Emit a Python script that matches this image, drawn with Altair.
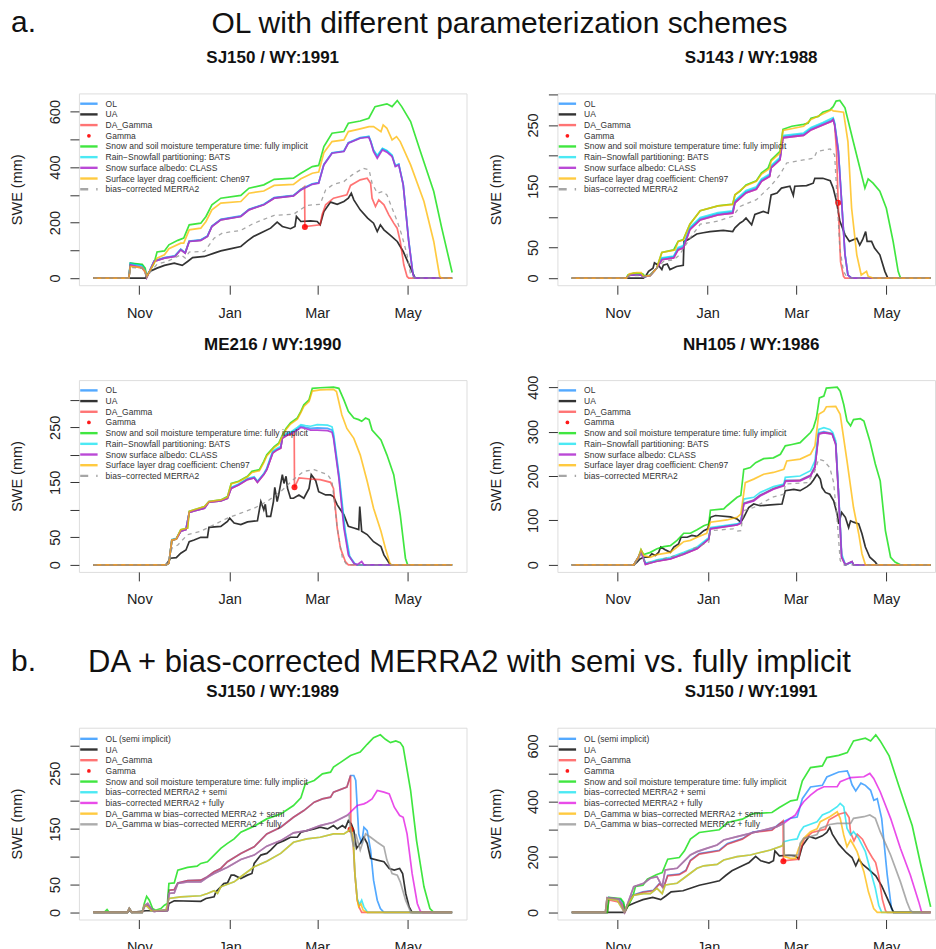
import altair as alt
import pandas as pd

FONT = "Liberation Sans"

# ---------------- data: (day since Oct 1, SWE mm) ----------------
# Panel 1: SJ150 / WY:1991
P1_OL = [(0,0),(24,0),(25,54),(33,46),(35,28),(36,3),(38,26),(41,62),(48,74),(55,80),(59,104),(62,92),(64.7,134),(72.5,138),(77,152),(80,188),(86,212),(99.5,224),(105,248),(115,266),(122,290),(135,298),(140,320),(147.7,340),(152,344),(155.5,410),(161,452),(169,458),(172,488),(180,506),(185.8,510),(187,494),(189,460),(191.5,438),(195,466),(198,458),(201.5,440),(203.7,404),(206,410),(209,338),(212.7,136),(215.6,14),(217,0),(242,0)]
P1_UA = [(0,0),(35,0),(36.5,12),(38,24),(43,36),(48,46),(54.6,54),(60,46),(63.6,60),(67,74),(75,78),(81.5,90),(86,98),(93,106),(99.5,114),(104,134),(108,150),(115,168),(119.6,180),(124,202),(127.5,186),(133,178),(136,186),(137,222),(140,204),(146.5,206),(151,204),(153,192),(155.5,240),(160,274),(164.5,266),(169,276),(172,288),(174,306),(175.7,282),(180,246),(185,216),(189,198),(191.5,168),(193.6,192),(196,174),(200,156),(205,132),(209,96),(214,36),(217,0),(242,0)]
P1_DA = [(0,0),(24,0),(25,45),(33,36),(35,22),(36,2),(38,24),(41,60),(48,72),(55,78),(59,102),(62,90),(64.7,132),(72.5,136),(77,150),(80,186),(86,210),(99.5,222),(105,246),(115,264),(122,288),(135,296),(140,318),(142.5,330),(142.7,186),(153,192),(154.3,228),(156.7,264),(162,288),(171,300),(173.5,334),(180,354),(184.7,360),(187,342),(188,288),(190.3,258),(192.5,282),(196,264),(199.3,228),(202.6,198),(204.9,180),(207,132),(209.4,48),(211.6,6),(212.7,0),(242,0)]
P1_GAMMA = [(142.7,184)]
P1_FULLY = [(0,0),(24,0),(25,54),(33,50),(35,36),(36,6),(38,24),(41,54),(43,94),(48,98),(51,120),(57,136),(61,144),(64.7,192),(72.5,198),(76,222),(80,264),(86,288),(99.5,298),(105,324),(115,336),(122,356),(135,360),(140,378),(147.7,402),(152,406),(155.5,474),(161,522),(169,528),(172,558),(180,566),(185.8,576),(190,618),(198,628),(201.5,618),(205,640),(208,618),(214,564),(220.6,456),(229.6,312),(235,180),(242,20)]
P1_BATS = [(0,0),(24,0),(25,52),(33,44),(35,27),(36,3),(38,25),(41,61),(48,73),(55,79),(59,103),(62,91),(64.7,133),(72.5,137),(77,151),(80,187),(86,211),(99.5,223),(105,247),(115,265),(122,289),(135,297),(140,319),(147.7,339),(152,343),(155.5,409),(161,451),(169,457),(172,487),(180,505),(185.8,511),(187,496),(189,462),(191.5,442),(195,468),(198,460),(201.5,444),(203.7,406),(206,411),(209,338),(212.7,134),(215.6,13),(217,0),(242,0)]
P1_CLASS = [(0,0),(24,0),(25,48),(33,38),(35,24),(36,2),(38,24),(41,60),(48,72),(55,78),(59,102),(62,90),(64.7,132),(72.5,136),(77,150),(80,186),(86,210),(99.5,222),(105,246),(115,264),(122,288),(135,296),(140,318),(147.7,338),(152,342),(155.5,408),(161,450),(169,456),(172,486),(180,504),(185.8,508),(187,492),(189,456),(191.5,432),(195,462),(198,454),(201.5,438),(203.7,402),(206,408),(209,336),(212.7,132),(215.6,12),(217,0),(242,0)]
P1_CHEN97 = [(0,0),(24,0),(25,42),(33,38),(35,24),(36,5),(38,24),(43,72),(48,84),(51,106),(59,126),(61,126),(64.7,174),(72.5,180),(76,204),(80,246),(86,270),(99.5,276),(105,306),(115,314),(122,334),(135,338),(140,358),(147.7,378),(152,382),(155.5,452),(161,492),(169,498),(172,528),(180,538),(186,546),(189,546),(194,528),(195.5,552),(198,540),(201.5,498),(204.5,510),(207,492),(214,408),(223,276),(229.6,132),(233.6,6),(235,0),(242,0)]
P1_MERRA2 = [(0,0),(24,0),(25,38),(33,36),(36,5),(38,18),(43,50),(50,60),(59,84),(62,72),(64.7,94),(75,96),(81.5,144),(87,162),(99.5,172),(107,194),(115,212),(122,226),(135,230),(144,262),(153,266),(156.7,318),(162,338),(169,348),(174.6,372),(182,396),(186,390),(188,342),(191.5,306),(195,312),(198,300),(201.5,252),(205,204),(208,156),(211.6,84),(214,12),(216,0),(242,0)]

# Panel 2: SJ143 / WY:1988 (leap year)
P2_OL = [(0,0),(37,0),(39,5),(47,5),(48.5,2),(53,4),(57.5,16),(61,32),(69,35),(72,48),(75.5,51),(80,81),(87,97),(99,105),(109,108),(110.5,125),(118,141),(125,147),(128.5,160),(134,168),(135,182),(141,195),(143,231),(157,235),(162,244),(170,252),(176,258),(177,260),(178,252),(180.5,208),(183,115),(185,39),(187,5),(189.5,0),(243,0)]
P2_UA = [(0,0),(48.5,0),(50,3),(52,11),(55,16),(56,25),(58.6,21),(61,14),(62,21),(64.7,23),(66.5,14),(71,19),(75.5,21),(76,60),(79,63),(84.6,72),(89,74),(93.6,76),(102.6,78),(109,76),(110.5,82),(114,90),(116,93),(118,98),(121.8,87),(124,104),(129.7,109),(133,106),(135,136),(139,139),(142,147),(147.7,150),(150,135),(151,150),(159,151),(163.5,155),(164.6,163),(170,163),(175,159),(177,147),(179.3,125),(181.5,93),(185,71),(188,60),(193,65),(195,54),(197,63),(199,76),(200,60),(203,60),(205,49),(208.6,38),(212,11),(214,0),(243,0)]
P2_DA = [(0,0),(37,0),(39,5),(47,5),(48.5,2),(53,4),(57.5,16),(61,30),(69,33),(72,46),(75.5,49),(80,79),(87,95),(99,103),(109,106),(110.5,123),(118,139),(125,145),(128.5,158),(134,166),(135,180),(141,193),(143,229),(157,233),(162,242),(170,250),(176,256),(177,259),(178,250),(179.3,207),(180.4,122),(182,27),(184,3),(185,0),(243,0)]
P2_GAMMA = [(180.4,123)]
P2_FULLY = [(0,0),(37,0),(38,5),(42,8),(48,7),(49.6,3),(53,5),(57.5,16),(61,42),(69,46),(72,60),(75.5,63),(80,88),(87,110),(99,118),(109,121),(110.5,136),(114,142),(118,152),(125,159),(128.5,172),(133,180),(135,193),(141,207),(143,243),(149,248),(157,251),(160,253),(162,261),(167,264),(170,271),(175,275),(177,280),(179,289),(181.5,290),(185,278),(190.6,223),(198.5,147),(200.7,162),(204,155),(208.6,142),(213,114),(217.6,60),(221,11),(222.6,0),(243,0)]
P2_BATS = [(0,0),(37,0),(39,5),(47,5),(48.5,2),(53,4),(57.5,16),(61,33),(69,36),(72,50),(75.5,53),(80,83),(87,99),(99,107),(109,110),(110.5,127),(118,143),(125,149),(128.5,162),(134,170),(135,184),(141,197),(143,233),(157,237),(162,246),(170,254),(176,261),(177,262),(178,254),(180.5,210),(183,116),(185,40),(187,5),(189.5,0),(243,0)]
P2_CLASS = [(0,0),(37,0),(39,5),(47,5),(48.5,2),(53,4),(57.5,16),(61,30),(69,33),(72,46),(75.5,49),(80,79),(87,95),(99,103),(109,106),(110.5,123),(118,139),(125,145),(128.5,158),(134,166),(135,180),(141,193),(143,229),(157,233),(162,242),(170,250),(176,256),(177,259),(178,250),(180.5,207),(183,114),(185,38),(187,5),(189.5,0),(243,0)]
P2_CHEN97 = [(0,0),(37,0),(39,7),(44,9),(47,9),(48.5,3),(53,4),(57.5,16),(61,42),(70,46),(72,60),(75.5,62),(80,88),(87,110),(99,118),(109,120),(110.5,136),(118,151),(125,158),(128.5,170),(134,179),(135,191),(141,204),(143,241),(157,248),(162,259),(170,268),(176,275),(177,273),(184,271),(187,223),(189.5,114),(193,38),(196,5),(199.6,11),(200.7,3),(204,0),(243,0)]
P2_MERRA2 = [(0,0),(37,0),(39,4),(47,4),(48.5,2),(53,4),(57.5,16),(62,27),(69,30),(73,38),(80,65),(87,88),(99,93),(109,101),(114,117),(125,128),(135,151),(141,169),(145.5,188),(157,193),(164,196),(166,207),(175,211),(178,201),(179,158),(181.5,49),(184,11),(186,3),(188,0),(243,0)]

# Panel 3: ME216 / WY:1990
P3_OL = [(0,0),(49,0),(51,3),(53,45),(56,47),(59,61),(62.5,64),(64.7,95),(68,98),(75,103),(78,114),(86,116),(90.5,121),(93,140),(98,146),(104,156),(108.5,159),(110.7,151),(115,165),(117,174),(121,205),(124,210),(126.4,213),(127.5,231),(131,238),(134,241),(137.6,247),(140,252),(143,250),(146.5,248),(151,249),(158,248),(161,245),(162,234),(165.8,158),(169.5,64),(172.5,16),(176,2),(178,0),(242,0)]
P3_UA = [(0,0),(49,0),(50.6,6),(52,12),(56,13),(59,21),(62.5,27),(64.7,42),(68,45),(72.5,50),(77,50),(78,68),(86,70),(90.5,79),(92,85),(95,76),(99.5,73),(104,78),(110.7,80),(113,115),(115,100),(116,110),(117,88),(119.6,88),(121.5,115),(122.4,141),(124,115),(125,127),(127.5,164),(128.6,148),(130,161),(131,139),(133,121),(135,121),(138.7,127),(142,121),(145.5,139),(147,164),(150,153),(152,133),(156.7,127),(160,127),(162,124),(164.5,109),(169,91),(172,70),(175.7,67),(179,64),(179.7,106),(181,61),(184.7,55),(189,42),(194,33),(196,18),(199.6,3),(200.7,0),(242,0)]
P3_DA = [(0,0),(49,0),(51,3),(53,45),(56,47),(59,61),(62.5,64),(64.7,95),(68,98),(75,103),(78,114),(86,116),(90.5,121),(93,139),(98,145),(104,155),(108.5,158),(110.7,150),(115,164),(117,173),(121,203),(124,209),(126.4,212),(127.5,230),(131,236),(135.5,238),(135.7,141),(138.7,158),(146.5,156),(153,155),(160,150),(162,139),(164.5,67),(166.7,30),(170,6),(172,0),(242,0)]
P3_GAMMA = [(135.7,141)]
P3_FULLY = [(0,0),(49,0),(51,3),(53,45),(56,47),(59,64),(63.6,67),(64.7,97),(68,100),(75,106),(78,115),(86,118),(90.5,124),(93,148),(98,152),(104,161),(107,170),(112,173),(115,188),(117,200),(122,215),(125,221),(127.5,236),(130,248),(133,258),(137.6,267),(140,279),(142,291),(145.5,300),(147.7,321),(153,322),(162,323),(165.6,321),(169,300),(172,279),(175.7,267),(179,264),(181,261),(183.6,267),(186,264),(188,245),(194,227),(198,200),(202.6,164),(207,91),(210.5,12),(212,0),(242,0)]
P3_BATS = [(0,0),(49,0),(51,3),(53,46),(56,48),(59,62),(62.5,65),(64.7,96),(68,99),(75,104),(78,115),(86,117),(90.5,122),(93,141),(98,147),(104,157),(108.5,160),(110.7,152),(115,166),(117,176),(121,207),(124,212),(126.4,215),(127.5,233),(131,240),(134,243),(137.6,250),(140,255),(143,253),(146.5,252),(151,255),(158,254),(161,251),(162,240),(166,158),(170,60),(173,15),(176.5,2),(178,0),(242,0)]
P3_CLASS = [(0,0),(49,0),(51,3),(53,45),(56,47),(59,61),(62.5,64),(64.7,95),(68,98),(75,103),(78,114),(86,116),(90.5,121),(93,139),(98,145),(104,155),(108.5,158),(110.7,150),(115,164),(117,173),(121,203),(124,209),(126.4,212),(127.5,230),(131,236),(134,239),(137.6,245),(140,250),(143,248),(146.5,245),(151,245),(158,244),(161,241),(162,230),(165.6,158),(169,67),(172,18),(175.7,3),(178,0),(181,6),(182.5,0),(242,0)]
P3_CHEN97 = [(0,0),(49,0),(51,3),(53,45),(56,47),(59,64),(63.6,67),(64.7,97),(68,100),(75,106),(78,115),(86,118),(90.5,123),(93,147),(98,151),(104,160),(107,168),(112,171),(115,186),(117,198),(122,213),(125,219),(127.5,234),(130,246),(133,256),(137.6,265),(140,277),(142,288),(145.5,297),(147.7,316),(153,318),(162,319),(164,315),(167.6,273),(171,248),(175.7,230),(180,200),(184.7,152),(189,103),(194,61),(197,30),(200,3),(201,0),(242,0)]
P3_MERRA2 = [(0,0),(49,0),(51,6),(53,30),(57,36),(63.6,55),(72.5,61),(81.5,73),(90.5,85),(99.5,94),(108.5,103),(117,115),(126.4,133),(135,155),(142,170),(149,173),(158,164),(161,152),(164.5,67),(168,12),(171,0),(242,0)]

# Panel 4: NH105 / WY:1986
P4_OL = [(0,0),(41.8,0),(45,17),(46.7,30),(49.7,2),(53,5),(57.5,9),(66.5,14),(75.5,25),(84.5,37),(92.4,59),(93.5,82),(111.5,91),(114,95),(116,139),(122.7,146),(127,157),(136,172),(143,180),(144,190),(154,191),(161,202),(164,222),(166.5,297),(170,300),(175.6,296),(178,273),(180,154),(182,18),(184.5,0),(189,7),(190,0),(242,0)]
P4_UA = [(0,0),(41.8,0),(44,6),(46,13),(48.5,17),(52,17),(54,25),(56.4,21),(58.6,28),(60,40),(63,34),(66.5,28),(68.8,40),(72,47),(73.7,62),(77.8,62),(81,66),(84.5,64),(89,77),(91.7,81),(93.5,107),(96.9,111),(107,108),(111.5,103),(114,96),(116,107),(119.3,129),(122.7,137),(127,133),(134,135),(141.8,137),(144,167),(149.7,170),(154,167),(158.7,176),(161,182),(163,191),(165.4,204),(167.6,193),(168.8,174),(171,163),(174,159),(176.6,144),(179,114),(180,92),(182,118),(184.5,107),(186.7,84),(188,99),(190,96),(193.5,92),(195.7,70),(198,40),(201,17),(204.7,6),(206,0),(242,0)]
P4_DA = [(0,0),(41.8,0),(45,17),(46.7,30),(49.7,1),(53,4),(57.5,8),(66.5,13),(75.5,24),(84.5,36),(92.4,58),(93.5,81),(111.5,90),(114,94),(116,138),(122.7,145),(127,156),(136,171),(143,179),(144,189),(154,190),(161,201),(164,220),(166.5,295),(170,298),(175.6,295),(178,272),(180,153),(182,17),(184.5,0),(189,7),(190,0),(242,0)]
P4_GAMMA = []
P4_FULLY = [(0,0),(41.8,0),(45,17),(46.7,34),(48.5,23),(53,28),(57.5,36),(62,41),(66.5,43),(71,55),(75.5,71),(80,71),(84.5,79),(89,88),(92.4,92),(93.5,123),(102.5,126),(104.7,133),(111.5,152),(114,156),(116,215),(120.4,219),(124,230),(129.4,239),(136,241),(140.7,249),(144,268),(148.5,271),(154,275),(156.4,283),(161,298),(163,309),(165,331),(167,376),(170,380),(171.7,398),(179,400),(181,391),(183.4,361),(185.6,324),(188,313),(190,327),(194.6,329),(197,324),(201,279),(204.7,227),(208,189),(211.5,77),(215,17),(218,6),(221.6,0),(242,0)]
P4_BATS = [(0,0),(41.8,0),(45,17),(46.7,31),(49.7,4),(53,6),(57.5,11),(66.5,17),(75.5,28),(84.5,40),(92.4,61),(93.5,84),(111.5,92),(114,96),(116,148),(122.7,152),(127,163),(136,176),(143,182),(144,197),(154,200),(161,212),(164,234),(166.5,305),(170,309),(174,305),(176,298),(178,279),(180,159),(182,25),(184.5,0),(189,6),(190,0),(242,0)]
P4_CLASS = [(0,0),(41.8,0),(45,17),(46.7,30),(49.7,1),(53,4),(57.5,8),(66.5,13),(75.5,24),(84.5,36),(92.4,58),(93.5,81),(111.5,90),(114,94),(116,137),(122.7,144),(127,155),(136,170),(143,178),(144,188),(154,189),(161,200),(164,219),(166.5,294),(170,297),(175.6,294),(178,271),(180,152),(182,17),(184.5,0),(189,7),(190,0),(242,0)]
P4_CHEN97 = [(0,0),(41.8,0),(45,17),(46.7,34),(48.5,21),(53,17),(57.5,23),(66.5,28),(71,40),(75.5,52),(80,55),(84.5,62),(91,71),(93.5,96),(104.7,101),(111.5,107),(114,114),(117,185),(122.7,193),(129.4,204),(136,208),(143,215),(145,234),(154,238),(161,249),(164,268),(166.5,339),(170,346),(171.7,356),(178,357),(181,339),(185.6,234),(190,129),(193.5,70),(195.7,25),(198,0),(242,0)]
P4_MERRA2 = [(0,0),(41.8,0),(45,13),(46.7,25),(49.7,4),(57.5,10),(75.5,25),(80,34),(92.4,51),(93.5,77),(109,81),(111.5,76),(114,77),(116,122),(122.7,129),(136,153),(143,159),(144,182),(159,185),(164,212),(166.5,238),(170,234),(174,219),(176.6,185),(179,99),(181,10),(183,0),(242,0)]

# Panel 5: SJ150 / WY:1989
P5_OL = [(0,0),(23,0),(24.3,7),(26,0),(33,0),(34.4,10),(36.7,13),(39,7),(41,2),(50,4),(51,40),(54.6,41),(57,53),(63.6,57),(72.5,58),(77,64),(81.5,73),(86,79),(90.5,91),(99.5,106),(108.5,118),(117,141),(126.4,153),(135,171),(142,183),(149,198),(154.5,204),(160,207),(162,216),(171,225),(173.5,246),(175.7,246),(177,237),(179,141),(181,124),(182.5,153),(184.7,147),(187,112),(189,58),(191.5,22),(193.6,7),(196,0),(242,0)]
P5_UA = [(0,0),(23,0),(24.3,4),(26,0),(35.5,3),(50,3),(51,16),(54.6,21),(72.5,20),(76,25),(81.5,28),(82.7,37),(86,46),(88,52),(90.5,53),(93,67),(95,67),(99.5,61),(104,67),(107,70),(108.5,88),(113,103),(117,106),(119.6,112),(124,124),(128.6,129),(133,135),(137.6,135),(140,144),(144,147),(149,150),(153,153),(158,150),(162,156),(164.5,150),(168,156),(170,152),(172,165),(174,159),(175.7,147),(177.5,115),(180,124),(182.5,135),(184.7,124),(187,97),(191.5,94),(196,91),(199.6,79),(203,76),(206.6,79),(208.6,70),(210.7,34),(213,10),(215,0),(242,0)]
P5_DA = [(0,0),(23,0),(24.3,7),(26,0),(33,0),(34.4,10),(36.7,13),(39,7),(41,2),(50,4),(51,40),(54.6,41),(57,53),(63.6,57),(72.5,58),(77,64),(81.5,73),(86,79),(90.5,91),(99.5,106),(108.5,118),(117,141),(126.4,153),(135,171),(142,183),(149,198),(154.5,204),(160,207),(162,216),(171,225),(173.5,246),(173.7,149),(175,135),(176.4,70),(178,22),(179.5,8),(181,0),(242,0)]
P5_GAMMA = [(173.5,149)]
P5_FULLY = [(0,0),(7.4,0),(9.3,5),(10.8,0),(23,0),(24.3,7),(26,0),(33,0),(34.4,16),(36,29),(37.8,22),(40,7),(42,4),(45.6,7),(48,13),(50,16),(51,52),(54.6,53),(57,76),(63.6,81),(70,83),(72.5,88),(77,91),(81.5,103),(86,115),(90.5,124),(95,132),(99.5,144),(108.5,155),(117,168),(126.4,177),(135,192),(140,206),(143,231),(149,237),(154.5,249),(160,252),(162,261),(167,270),(173.5,282),(180,288),(184.7,302),(189,314),(193.6,319),(197,311),(200.4,305),(204,308),(207,305),(209,297),(214,219),(218,129),(223,46),(227,7),(229.6,0),(242,0)]
P5_BC_SEMI = [(0,0),(23,0),(24.3,7),(26,0),(33,0),(34.4,13),(36.7,10),(39,3),(49,4),(51,25),(59,28),(72.5,30),(77,34),(81.5,39),(83.8,34),(86,46),(95,55),(99.5,64),(108.5,82),(117,92),(126.4,106),(135,126),(144,132),(153,135),(162,141),(169,141),(172.5,147),(173.5,150),(175.4,129),(176.4,70),(178,25),(179.5,14),(181,22),(182.5,10),(185,0),(242,0)]
P5_BC_FULLY = [(0,0),(23,0),(24.3,7),(26,0),(33,0),(34.4,12),(36.7,16),(39,7),(41,2),(50,4),(51,34),(54.6,35),(57,52),(63.6,55),(72.5,55),(77,63),(81.5,70),(90.5,81),(99.5,95),(108.5,103),(117,119),(126.4,129),(135,143),(144,147),(153,156),(162,162),(171,174),(178,192),(182.5,195),(184.7,198),(188,204),(191.5,219),(196,216),(199.6,213),(203,189),(206.6,174),(209,171),(211.6,141),(215,70),(218.5,16),(220.6,2),(222,0),(242,0)]
P5_DA_BC_SEMI = [(0,0),(23,0),(24.3,7),(26,0),(33,0),(34.4,13),(36.7,10),(39,3),(49,4),(51,25),(59,28),(72.5,30),(77,34),(81.5,39),(83.8,34),(86,46),(95,55),(99.5,64),(108.5,82),(117,92),(126.4,106),(135,126),(144,132),(153,135),(162,141),(169,141),(172.5,147),(173.5,153),(175.4,129),(176.4,70),(178,22),(179,10),(180.5,15),(182,4),(184.7,0),(242,0)]
P5_DA_BC_FULLY = [(0,0),(23,0),(24.3,7),(26,0),(33,0),(34.4,12),(36.7,16),(39,7),(41,2),(50,4),(51,34),(54.6,35),(57,52),(63.6,55),(72.5,55),(77,63),(81.5,70),(90.5,81),(99.5,95),(108.5,103),(117,119),(126.4,129),(135,143),(144,147),(153,156),(162,162),(171,174),(172.5,176),(173.5,147),(174.6,129),(175.7,118),(177,141),(180,112),(183.6,141),(187,135),(191.5,126),(196,118),(198,94),(201.5,70),(205,67),(207,55),(210.6,22),(213,7),(214,0),(242,0)]

# Panel 6: SJ150 / WY:1991 (same OL, UA, DA_Gamma, Gamma, fully implicit as panel 1)
P6_BC_SEMI = [(0,0),(22.7,0),(23.8,50),(30.6,44),(34,14),(35.5,2),(37.3,26),(41.8,62),(48.5,68),(53,68),(57.5,87),(61,68),(63,99),(71,105),(75.5,123),(80,141),(84.5,159),(89,168),(98,173),(102.5,189),(111.5,201),(120.4,207),(127,216),(134,225),(142,240),(143,255),(147.4,261),(152,265),(154,291),(156.4,309),(165.4,327),(169,351),(174,363),(179,381),(181,393),(183.4,381),(185.6,303),(188,279),(190,291),(193.5,267),(198,219),(201,159),(204.7,87),(207,26),(209,0),(242,0)]
P6_BC_FULLY = [(0,0),(22.7,0),(23.8,53),(31.7,48),(34,20),(35.5,0),(37.3,26),(41.8,93),(48.5,105),(53,123),(57.5,129),(61,93),(63,153),(71,159),(75.5,183),(80,207),(84.5,219),(91,231),(98,243),(102.5,261),(111.5,273),(120.4,285),(129.4,297),(138.4,309),(143,321),(147.4,339),(150.8,351),(154,381),(156.4,399),(161,423),(165.4,441),(170,453),(179,453),(181,471),(188,486),(197,489),(201,501),(203.6,483),(208,435),(215,339),(221.6,231),(228.3,135),(234,38),(236,0),(242,0)]
P6_DA_BC_SEMI = [(0,0),(22.7,0),(23.8,50),(30.6,44),(34,14),(35.5,2),(37.3,26),(41.8,62),(48.5,68),(53,68),(57.5,87),(61,68),(63,99),(71,105),(75.5,123),(80,141),(84.5,159),(89,168),(98,173),(102.5,189),(111.5,201),(120.4,207),(127,216),(134,225),(142,240),(143,255),(143.4,201),(147.4,195),(150.8,195),(153,231),(156.4,267),(161,291),(165.4,301),(167.6,327),(174,345),(179,363),(181,339),(183.4,279),(185.6,237),(188,261),(190,243),(192.4,219),(197,147),(200,75),(203.6,14),(206,0),(242,0)]
P6_DA_BC_FULLY = [(0,0),(22.7,0),(23.8,53),(31.7,48),(34,20),(35.5,0),(37.3,26),(41.8,93),(48.5,105),(53,123),(57.5,129),(61,93),(63,153),(71,159),(75.5,183),(80,207),(84.5,219),(91,231),(98,243),(102.5,261),(111.5,273),(120.4,285),(129.4,297),(138.4,309),(143,321),(143.2,207),(153,207),(154,249),(156.4,267),(161,273),(165.4,281),(167.6,303),(174,317),(179,321),(188,321),(190,339),(197,345),(201,351),(204.7,339),(208,291),(215,207),(221.6,111),(226,38),(228.3,8),(230,0),(242,0)]

MONTH_LABELS = ["Nov", "Jan", "Mar", "May"]
TICKS_NORMAL = [31, 92, 151, 212]
TICKS_LEAP = [31, 92, 152, 213]

# ---------------- styles ----------------
C_OL, C_UA, C_DA, C_GAMMA = "#1a8cff", "#000000", "#ff2a2a", "#ff0000"
C_FULLY, C_BATS, C_CLASS, C_CHEN = "#00dd00", "#00e0f0", "#b030d0", "#ffb800"
C_MERRA, C_BCF, C_GRAY = "#909090", "#e000e0", "#909090"
OP_CLASS = 0.88

ONE = pd.DataFrame({"k": [0]})
BOX_W, BOX_H = 388, 192
LINE_W = 1.7


def anchors(top, bottom):
    """Invisible 1px marks that fix the vertical extent of a row for the layout."""
    return [
        alt.Chart(ONE).mark_rect(opacity=0).encode(
            x=alt.value(-78), x2=alt.value(-77), y=alt.value(-top), y2=alt.value(-top + 1)),
        alt.Chart(ONE).mark_rect(opacity=0).encode(
            x=alt.value(-78), x2=alt.value(-77), y=alt.value(BOX_H + bottom - 1), y2=alt.value(BOX_H + bottom)),
    ]


def make_panel(title, series, n_days, xticks, yticks, ylabs, legend, leg_y0,
               width=BOX_W, extra=()):
    lo, hi = -0.04 * n_days, 1.04 * n_days
    hi = lo + (hi - lo) * width / BOX_W
    m = max(v for s in series for (_, v) in s[1])
    xaxis = alt.Axis(values=xticks, title=None, domain=False, grid=False,
                     labelExpr="%s[indexof(%s, datum.value)]" % (str(MONTH_LABELS), str(xticks)),
                     tickSize=9, tickColor="#333", tickWidth=1, labelFont=FONT,
                     labelFontSize=14.5, labelColor="#222", labelPadding=23,
                     labelBaseline="alphabetic", labelFlush=False, labelOverlap=False)
    yaxis = alt.Axis(values=yticks, title="SWE (mm)", domain=False, grid=False,
                     labelExpr="indexof(%s, datum.value) >= 0 ? datum.label : ''" % str(ylabs),
                     tickSize=9, tickColor="#333", tickWidth=1, labelFont=FONT,
                     labelFontSize=14.5, labelColor="#222", labelAngle=270,
                     labelAlign="center", labelBaseline="alphabetic", labelPadding=10.7,
                     labelFlush=False, labelOverlap=False,
                     titleFont=FONT, titleFontSize=14.5, titleFontWeight="normal",
                     titleColor="#222", titleAngle=270, titleX=-61, titleY=BOX_H / 2,
                     titleAlign="center", titleBaseline="middle")
    xenc = alt.X("day:Q", scale=alt.Scale(domain=[lo, hi], nice=False, zero=False), axis=xaxis)
    yenc = alt.Y("swe:Q", scale=alt.Scale(domain=[-0.04 * m, 1.04 * m], nice=False, zero=False), axis=yaxis)
    layers = []
    for name, pts, color, op, kind in series:
        if not pts:
            continue
        df = pd.DataFrame(pts, columns=["day", "swe"])
        if kind == "point":
            layers.append(alt.Chart(df).mark_circle(color=color, opacity=op, size=36, clip=True)
                          .encode(x=xenc, y=yenc))
        else:
            kw = dict(color=color, opacity=op, strokeWidth=LINE_W, clip=True)
            if kind == "dash":
                kw["strokeDash"] = [4, 4]
                kw["strokeWidth"] = 1.3
            layers.append(alt.Chart(df).mark_line(**kw).encode(x=xenc, y=yenc))
    # legend (drawn inside the top-left of the plot box)
    for i, (label, color, op, kind) in enumerate(legend):
        yy = leg_y0 + 10.7 * i
        if kind == "point":
            layers.append(alt.Chart(ONE).mark_circle(color=color, opacity=0.9, size=14)
                          .encode(x=alt.value(10), y=alt.value(yy)))
        else:
            kw = dict(color=color, opacity=op, strokeWidth=2.4)
            if kind == "dash":
                kw["strokeDash"] = [8, 8]
            layers.append(alt.Chart(ONE).mark_rule(**kw)
                          .encode(x=alt.value(1.3), x2=alt.value(18.7), y=alt.value(yy)))
        layers.append(alt.Chart(ONE).mark_text(align="left", baseline="middle", font=FONT,
                                               fontSize=8.5, color="#333")
                      .encode(x=alt.value(26.7), y=alt.value(yy), text=alt.value(label)))
    # panel title
    layers.append(alt.Chart(ONE).mark_text(align="center", baseline="alphabetic", font=FONT,
                                           fontSize=17, fontWeight="bold", color="#111")
                  .encode(x=alt.value(BOX_W / 2), y=alt.value(-30.3), text=alt.value(title)))
    layers.extend(extra)
    return alt.layer(*layers).properties(width=width, height=BOX_H)


def header(letter, text, cx, base, size):
    return [
        alt.Chart(ONE).mark_text(align="left", baseline="alphabetic", font=FONT, fontSize=30,
                                 color="#111").encode(x=alt.value(-68), y=alt.value(base),
                                                     text=alt.value(letter)),
        alt.Chart(ONE).mark_text(align="center", baseline="alphabetic", font=FONT, fontSize=size,
                                 color="#111").encode(x=alt.value(cx), y=alt.value(base + 1),
                                                     text=alt.value(text)),
    ]


LEG_A = [("OL", C_OL, 0.75, "line"), ("UA", C_UA, 0.8, "line"), ("DA_Gamma", C_DA, 0.65, "line"),
         ("Gamma", C_GAMMA, 0.9, "point"),
         ("Snow and soil moisture temperature time: fully implicit", C_FULLY, 0.75, "line"),
         ("Rain\u2212Snowfall partitioning: BATS", C_BATS, 0.7, "line"),
         ("Snow surface albedo: CLASS", C_CLASS, OP_CLASS, "line"),
         ("Surface layer drag coefficient: Chen97", C_CHEN, 0.75, "line"),
         ("bias\u2212corrected MERRA2", C_MERRA, 0.8, "dash")]
LEG_B = [("OL (semi implicit)", C_OL, 0.75, "line"), ("UA", C_UA, 0.8, "line"),
         ("DA_Gamma", C_DA, 0.65, "line"), ("Gamma", C_GAMMA, 0.9, "point"),
         ("Snow and soil moisture temperature time: fully implicit", C_FULLY, 0.75, "line"),
         ("bias\u2212corrected MERRA2 + semi", C_BATS, 0.7, "line"),
         ("bias\u2212corrected MERRA2 + fully", C_BCF, 0.7, "line"),
         ("DA_Gamma w bias\u2212corrected MERRA2 + semi", C_CHEN, 0.75, "line"),
         ("DA_Gamma w bias\u2212corrected MERRA2 + fully", C_GRAY, 0.75, "line")]


def series_a(ol, ua, da, gm, fully, bats, cls, chen, merra):
    return [("OL", ol, C_OL, 0.75, "line"), ("UA", ua, C_UA, 0.8, "line"),
            ("DA", da, C_DA, 0.65, "line"), ("Gamma", gm, C_GAMMA, 0.85, "point"),
            ("fully", fully, C_FULLY, 0.75, "line"), ("BATS", bats, C_BATS, 0.7, "line"),
            ("CLASS", cls, C_CLASS, OP_CLASS, "line"), ("Chen97", chen, C_CHEN, 0.75, "line"),
            ("MERRA2", merra, C_MERRA, 0.8, "dash")]


def series_b(ol, ua, da, gm, fully, bcs, bcf, dabcs, dabcf):
    return [("OL", ol, C_OL, 0.75, "line"), ("UA", ua, C_UA, 0.8, "line"),
            ("DA", da, C_DA, 0.65, "line"), ("Gamma", gm, C_GAMMA, 0.85, "point"),
            ("fully", fully, C_FULLY, 0.75, "line"), ("bcs", bcs, C_BATS, 0.7, "line"),
            ("bcf", bcf, C_BCF, 0.7, "line"), ("dabcs", dabcs, C_CHEN, 0.75, "line"),
            ("dabcf", dabcf, C_GRAY, 0.75, "line")]


RW = 378  # right-hand panels are cut by the page edge
Y600 = list(range(0, 700, 100))
Y300 = list(range(0, 350, 50))

p1 = make_panel("SJ150 / WY:1991",
                series_a(P1_OL, P1_UA, P1_DA, P1_GAMMA, P1_FULLY, P1_BATS, P1_CLASS, P1_CHEN97, P1_MERRA2),
                242, TICKS_NORMAL, Y600, [0, 200, 400, 600], LEG_A, 10.3,
                extra=anchors(92, 45) + header("a.", "OL with different parameterization schemes", 421, -61, 30))
p2 = make_panel("SJ143 / WY:1988",
                series_a(P2_OL, P2_UA, P2_DA, P2_GAMMA, P2_FULLY, P2_BATS, P2_CLASS, P2_CHEN97, P2_MERRA2),
                243, TICKS_LEAP, Y300, [0, 50, 150, 250], LEG_A, 10.3, width=RW)
p3 = make_panel("ME216 / WY:1990",
                series_a(P3_OL, P3_UA, P3_DA, P3_GAMMA, P3_FULLY, P3_BATS, P3_CLASS, P3_CHEN97, P3_MERRA2),
                242, TICKS_NORMAL, Y300, [0, 50, 150, 250], LEG_A, 10.3,
                extra=anchors(48, 45))
p4 = make_panel("NH105 / WY:1986",
                series_a(P4_OL, P4_UA, P4_DA, P4_GAMMA, P4_FULLY, P4_BATS, P4_CLASS, P4_CHEN97, P4_MERRA2),
                242, TICKS_NORMAL, list(range(0, 500, 100)), [0, 100, 200, 300, 400], LEG_A, 10.3, width=RW)
p5 = make_panel("SJ150 / WY:1989",
                series_b(P5_OL, P5_UA, P5_DA, P5_GAMMA, P5_FULLY, P5_BC_SEMI, P5_BC_FULLY, P5_DA_BC_SEMI, P5_DA_BC_FULLY),
                242, TICKS_NORMAL, Y300, [0, 50, 150, 250], LEG_B, 11.1,
                extra=anchors(109, 30) + header("b.", "DA + bias-corrected MERRA2 with semi vs. fully implicit", 391, -57, 31))
p6 = make_panel("SJ150 / WY:1991",
                series_b(P1_OL, P1_UA, P1_DA, P1_GAMMA, P1_FULLY, P6_BC_SEMI, P6_BC_FULLY, P6_DA_BC_SEMI, P6_DA_BC_FULLY),
                242, TICKS_NORMAL, Y600, [0, 200, 400, 600], LEG_B, 11.1, width=RW)

row1 = alt.hconcat(p1, p2, spacing=91, bounds="flush")
row2 = alt.hconcat(p3, p4, spacing=91, bounds="flush")
row3 = alt.hconcat(p5, p6, spacing=91, bounds="flush")
chart = alt.vconcat(row1, row2, row3, spacing=0).properties(
    padding={"left": 0, "top": 0, "right": 0, "bottom": 0}
).configure_view(stroke="#333", strokeWidth=1.1).configure(font=FONT, background="white")

chart.save("out.html", embed_options={"renderer": "svg", "actions": False})
